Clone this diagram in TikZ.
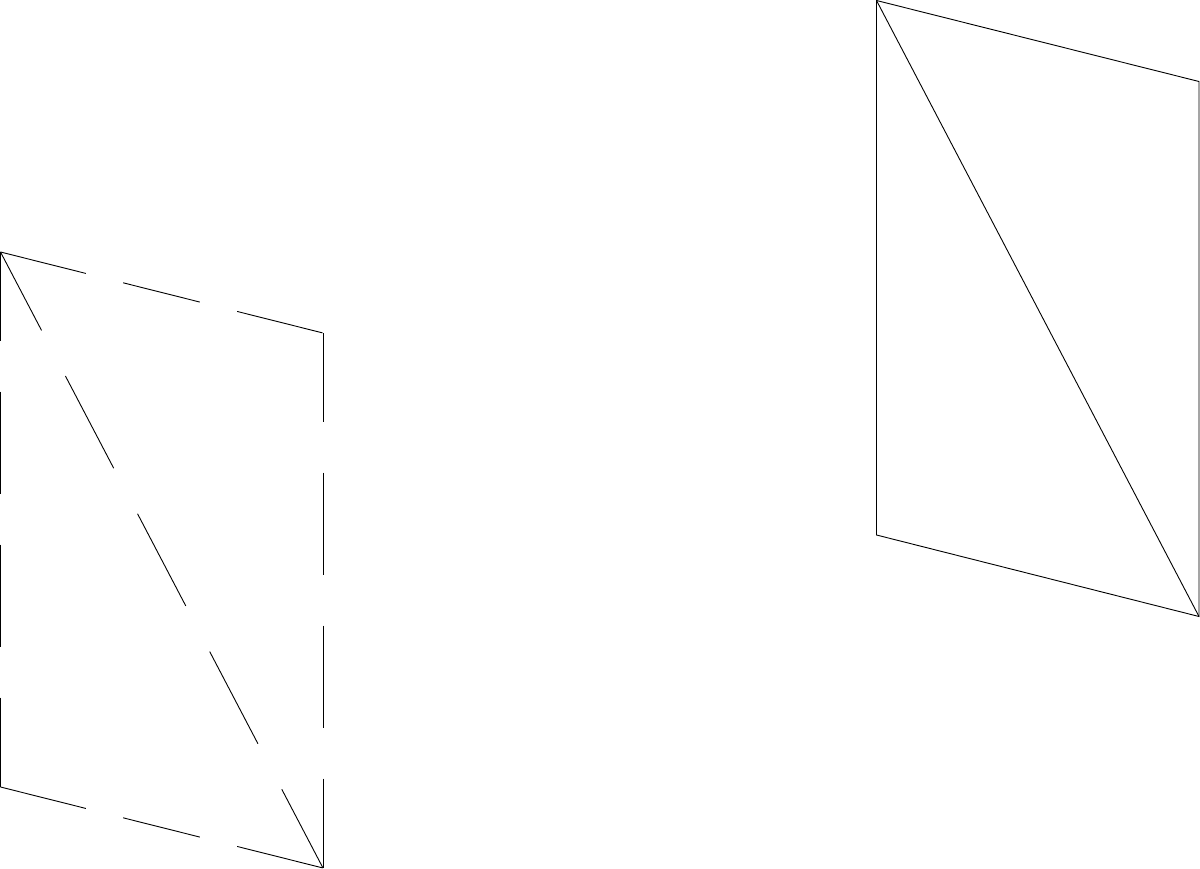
\documentclass[tikz,border=0pt]{standalone}
\begin{document}
\begin{tikzpicture}[x=1pt,y=-1pt,
  edge/.style={line width=0.9pt,line cap=butt,line join=miter},
  vdash/.style={edge,dash pattern=on 102.5pt off 50.5pt,dash phase=13.5pt},
  sdash/.style={edge,dash pattern=on 88pt off 38.5pt on 79pt off 38.5pt},
  ddash/.style={edge,dash pattern=on 104pt off 51.5pt,dash phase=15.5pt}]
\useasboundingbox (0,0) rectangle (1200,869);
% left (dashed) parallelogram
\coordinate (LA) at (0.5,252);
\coordinate (LB) at (323,333);
\coordinate (LC) at (323,868);
\coordinate (LD) at (0.5,787);
\draw[sdash] (LA) -- (LB);
\draw[vdash] (LB) -- (LC);
\draw[sdash] (LD) -- (LC);
\draw[vdash] (LA) -- (LD);
\draw[ddash] (LA) -- (LC);
% right (solid) parallelogram
\coordinate (RA) at (876.5,0.5);
\coordinate (RB) at (1199,81.5);
\coordinate (RC) at (1199,616.5);
\coordinate (RD) at (876.5,535);
\draw[edge] (RA) -- (RB) -- (RC) -- (RD) -- cycle;
\draw[edge] (RA) -- (RC);
\end{tikzpicture}
\end{document}
